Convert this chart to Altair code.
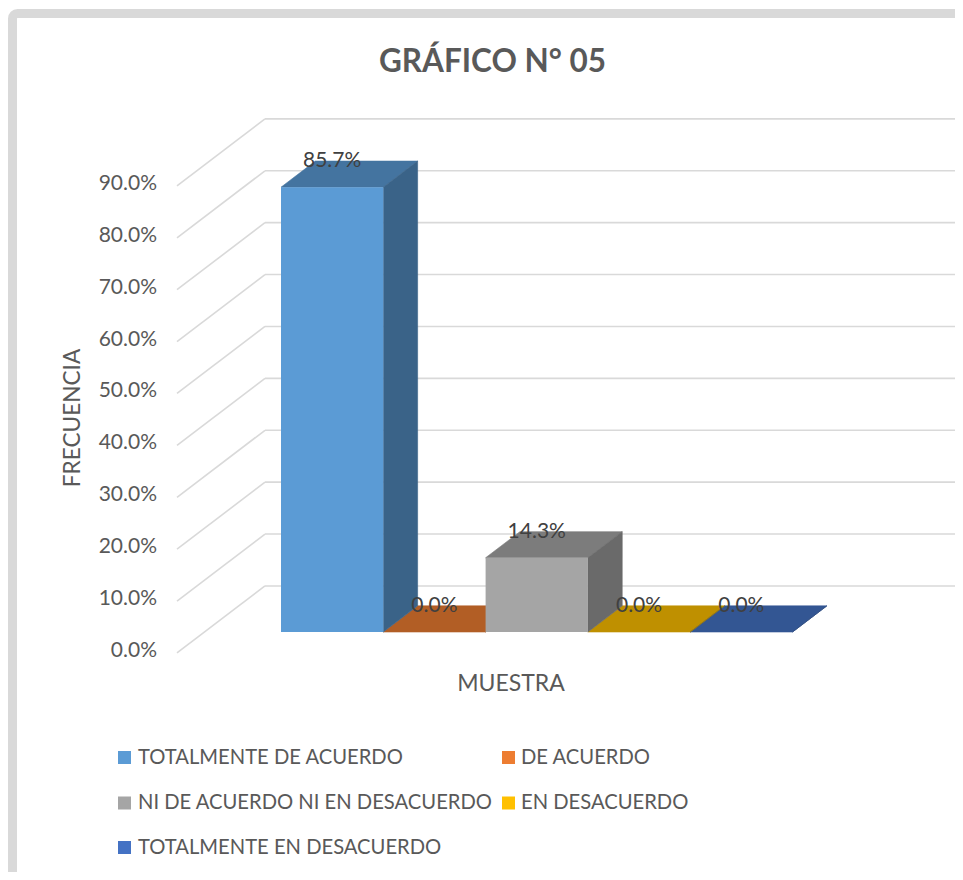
import altair as alt
import pandas as pd

# ---------------- data ----------------
categories = ["TOTALMENTE DE ACUERDO", "DE ACUERDO", "NI DE ACUERDO NI EN DESACUERDO",
              "EN DESACUERDO", "TOTALMENTE EN DESACUERDO"]
values = [85.7, 0.0, 14.3, 0.0, 0.0]
value_labels = ["85.7%", "0.0%", "14.3%", "0.0%", "0.0%"]
colors = ["#5B9BD5", "#ED7D31", "#A5A5A5", "#FFC000", "#4472C4"]
y_ticks = [0, 10, 20, 30, 40, 50, 60, 70, 80, 90]
y_tick_labels = ["0.0%", "10.0%", "20.0%", "30.0%", "40.0%", "50.0%", "60.0%", "70.0%", "80.0%", "90.0%"]
title_text = "GRÁFICO N° 05"
y_title = "FRECUENCIA"
x_title = "MUESTRA"

# ---------------- layout ----------------
W, H = 947, 864            # whole svg (page margin 8px)
PX_X = 102.3               # px per category slot
PX_Y = 5.19                # px per percent
X0_PAGE, Y0_PAGE = 281, 632  # page px of (slot 0, 0%) on bar front plane
X0, Y0 = X0_PAGE - 8, Y0_PAGE - 8
XMIN, XMAX = -X0 / PX_X, (W - X0) / PX_X
YMIN, YMAX = -(H - Y0) / PX_Y, Y0 / PX_Y
DEPTH_PX = (88.0, 67.0)    # full floor depth vector (right, up) in px
BAR_START = 0.313          # bar front plane position along depth
BAR_DEPTH = 0.39
FLOOR_LEFT_PAGE = 177      # page x of front-left floor corner
FONT = "Lato"
TXT = "#595959"
GRID = "#D9D9D9"


def ux(px_page):
    return (px_page - 8 - X0) / PX_X


def uy(py_page):
    return (Y0 - (py_page - 8)) / PX_Y


def depth(f):
    return f * DEPTH_PX[0] / PX_X, f * DEPTH_PX[1] / PX_Y


def shade(hexcol, k):
    h = hexcol.lstrip("#")
    r, g, b = (int(h[i:i + 2], 16) for i in (0, 2, 4))
    return "#%02X%02X%02X" % (round(r * k), round(g * k), round(b * k))


BDX, BDY = depth(BAR_DEPTH)
FDX, FDY = depth(-BAR_START)
WDX, WDY = depth(1.0)
FX = ux(FLOOR_LEFT_PAGE)

xs = alt.Scale(domain=[XMIN, XMAX], nice=False, zero=False)
ys = alt.Scale(domain=[YMIN, YMAX], nice=False, zero=False)

# gridlines (side wall diagonals + back wall horizontals)
grid_rows = []
for t in y_ticks:
    yf = t + FDY
    grid_rows.append(dict(x=FX, y=yf, x2=FX + WDX, y2=yf + WDY))
    grid_rows.append(dict(x=FX + WDX, y=yf + WDY, x2=XMAX, y2=yf + WDY))
grid_df = pd.DataFrame(grid_rows)

tick_df = pd.DataFrame(dict(x=[FX - 20 / PX_X] * len(y_ticks),
                            y=[t + FDY for t in y_ticks], label=y_tick_labels))

front_rows, top_rows, side_rows, lab_rows = [], [], [], []
for i, (c, v, col, lab) in enumerate(zip(categories, values, colors, value_labels)):
    front_rows.append(dict(cat=c, x=i, x2=i + 1, y=0, y2=v, col=col))
    tcol = shade(col, 0.75)
    top_rows.append(dict(cat=c, y=v, x=i, x2=i + 1, col=tcol))
    top_rows.append(dict(cat=c, y=v + BDY, x=i + BDX, x2=i + 1 + BDX, col=tcol))
    scol = shade(col, 0.64)
    side_rows.append(dict(cat=c, x=i + 1, y=v, y2=0, col=scol))
    side_rows.append(dict(cat=c, x=i + 1 + BDX, y=v + BDY, y2=BDY, col=scol))
    lab_rows.append(dict(x=i + 0.5, y=v + BDY, label=lab))
front_df = pd.DataFrame(front_rows)
top_df = pd.DataFrame(top_rows)
side_df = pd.DataFrame(side_rows)
lab_df = pd.DataFrame(lab_rows)

# legend (2 columns)
leg_sq_x = [118, 502]
leg_tx_x = [138, 521]
leg_row_y = [757.5, 803, 847.5]
leg_rows = []
for i, (c, col) in enumerate(zip(categories, colors)):
    cx, ry = i % 2, i // 2
    yc = leg_row_y[ry]
    leg_rows.append(dict(cat=c, col=col, x=ux(leg_sq_x[cx]), x2=ux(leg_sq_x[cx] + 13),
                         y=uy(yc - 6.5), y2=uy(yc + 6.5), tx=ux(leg_tx_x[cx]), ty=uy(yc)))
leg_df = pd.DataFrame(leg_rows)

one = pd.DataFrame({"a": [0]})

frame = alt.Chart(one).mark_rect(fill="white", stroke=GRID, strokeWidth=9, cornerRadius=5).encode(
    x=alt.value(4.5), x2=alt.value(1400), y=alt.value(5.5), y2=alt.value(1400))

grid = alt.Chart(grid_df).mark_rule(color=GRID, strokeWidth=1.6).encode(
    x=alt.X("x:Q", scale=xs, axis=None), x2="x2:Q",
    y=alt.Y("y:Q", scale=ys, axis=None), y2="y2:Q")

ticks = alt.Chart(tick_df).mark_text(align="right", baseline="middle", font=FONT, fontSize=21,
                                     color=TXT, dy=-2).encode(
    x=alt.X("x:Q", scale=xs, axis=None), y=alt.Y("y:Q", scale=ys, axis=None), text="label:N")

tops = alt.Chart(top_df).mark_area(orient="horizontal", strokeWidth=0.6).encode(
    y=alt.Y("y:Q", scale=ys, axis=None, stack=None),
    x=alt.X("x:Q", scale=xs, axis=None, stack=None), x2="x2:Q",
    detail="cat:N", color=alt.Color("col:N", scale=None), stroke=alt.Color("col:N", scale=None))

sides = alt.Chart(side_df).mark_area(orient="vertical", strokeWidth=0.6).encode(
    x=alt.X("x:Q", scale=xs, axis=None, stack=None),
    y=alt.Y("y:Q", scale=ys, axis=None, stack=None), y2="y2:Q",
    detail="cat:N", color=alt.Color("col:N", scale=None), stroke=alt.Color("col:N", scale=None))

fronts = alt.Chart(front_df).mark_rect().encode(
    x=alt.X("x:Q", scale=xs, axis=None), x2="x2:Q",
    y=alt.Y("y:Q", scale=ys, axis=None), y2="y2:Q",
    color=alt.Color("col:N", scale=None))

labels = alt.Chart(lab_df).mark_text(align="center", baseline="middle", font=FONT, fontSize=21,
                                     color="#404040").encode(
    x=alt.X("x:Q", scale=xs, axis=None), y=alt.Y("y:Q", scale=ys, axis=None), text="label:N")

leg_sq = alt.Chart(leg_df).mark_rect().encode(
    x=alt.X("x:Q", scale=xs, axis=None), x2="x2:Q",
    y=alt.Y("y:Q", scale=ys, axis=None), y2="y2:Q",
    color=alt.Color("col:N", scale=None))

leg_tx = alt.Chart(leg_df).mark_text(align="left", baseline="middle", font=FONT, fontSize=20.2,
                                     color=TXT).encode(
    x=alt.X("tx:Q", scale=xs, axis=None), y=alt.Y("ty:Q", scale=ys, axis=None), text="cat:N")

title = alt.Chart(one).mark_text(align="center", baseline="alphabetic", font=FONT, fontSize=31.5,
                                 fontWeight="bold", color=TXT).encode(
    x=alt.value(484.5), y=alt.value(63.5), text=alt.value(title_text))

ytitle = alt.Chart(one).mark_text(align="center", baseline="middle", font=FONT, fontSize=22.6,
                                  angle=270, color=TXT).encode(
    x=alt.value(65), y=alt.value(410), text=alt.value(y_title))

xtitle = alt.Chart(one).mark_text(align="center", baseline="middle", font=FONT, fontSize=23,
                                  color=TXT).encode(
    x=alt.value(503), y=alt.value(676), text=alt.value(x_title))

chart = alt.layer(frame, grid, ticks, tops, sides, fronts, labels, leg_sq, leg_tx,
                  title, ytitle, xtitle).properties(
    width=W, height=H, autosize=alt.AutoSizeParams(type="none"), padding=0
).configure_view(stroke=None)

chart.save("out.html", embed_options={"renderer": "svg", "actions": False})
